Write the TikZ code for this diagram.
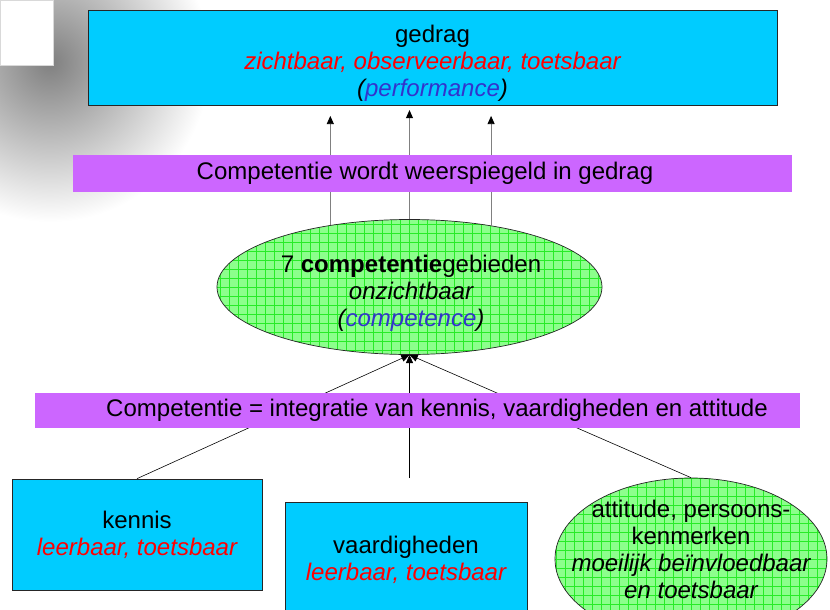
\documentclass[tikz,border=0pt]{standalone}
\usepackage{fontspec}
\setmainfont{Liberation Sans}
\usetikzlibrary{shapes,arrows.meta,calc,positioning}
\definecolor{boxcyan}{RGB}{0,204,255}
\definecolor{bandpurple}{RGB}{204,102,255}
\definecolor{ovalgreen}{RGB}{140,255,140}
\definecolor{gridgreen}{RGB}{40,235,40}
\definecolor{textred}{RGB}{255,0,0}
\definecolor{textblue}{RGB}{51,51,204}

\begin{document}
\begin{tikzpicture}[
  x=0.03cm, y=-0.03cm,
  font=\fontsize{20.5}{23}\selectfont,
  box/.style={rectangle, draw=black!85, line width=0.6pt, fill=boxcyan, align=center, inner sep=0pt},
  band/.style={rectangle, fill=bandpurple, inner sep=0pt},
  oval/.style={ellipse, draw=black!85, line width=0.6pt, fill=ovalgreen, align=center, inner sep=0pt,
    path picture={\draw[gridgreen, line width=0.3pt] (path picture bounding box.south west) grid[step=0.27cm] (path picture bounding box.north east);}},
  uparrow/.style={draw=black!50, line width=0.7pt, -{Triangle[black, length=7pt, width=6pt]}},
  joinarrow/.style={draw=black, line width=0.5pt, -{Triangle[black, length=7pt, width=6pt]}}
]
\useasboundingbox (0,0) rectangle (830,610);

% slide corner with shadow
\begin{scope}
  \clip (0,0) rectangle (830,610);
  \shade[inner color=black!50, outer color=white] (50,62) circle (160);
\end{scope}
\draw[draw=black!15, fill=white] (0,0) rectangle (53,65);

% Top: behaviour
\node[box, minimum width=20.67cm, minimum height=2.85cm] (gedrag) at (432.5,57.5) {};
\node[align=center] (gedragtext) at (432.5,63)
  {gedrag\\ {\itshape\color{textred}zichtbaar, observeerbaar, toetsbaar}\\ {\itshape(\textcolor{textblue}{performance})}};

% Middle: competence areas
\node[oval, minimum width=11.55cm, minimum height=4.05cm] (comp) at (409.5,287) {};
\node[align=center] (comptext) at (411,293)
  {7 \textbf{competentie}gebieden\\ {\itshape onzichtbaar}\\ {\itshape(\textcolor{textblue}{competence})}};

% Bottom: components
\node[box, minimum width=7.5cm, minimum height=3.33cm] (kennis) at (137,534.5)
  {kennis\\ {\itshape\color{textred}leerbaar, toetsbaar}};
\node[box, minimum width=7.26cm, minimum height=3.48cm] (vaard) at (406,560)
  {vaardigheden\\ {\itshape\color{textred}leerbaar, toetsbaar}};
\node[oval, minimum width=8.16cm, minimum height=4.86cm] (attitude) at (691,559) {};
\node[align=center] (atttext) at (691,549)
  {attitude, persoons-\\ kenmerken\\ {\itshape moeilijk beïnvloedbaar}\\ {\itshape en toetsbaar}};

% Arrows - competence to behaviour
\draw[uparrow, shorten >=9pt] (comp.142.5) -- (comp.142.5 |- gedrag.south);
\draw[uparrow, shorten >=4pt] (comp.north) -- (comp.north |- gedrag.south);
\draw[uparrow, shorten >=9pt] (comp.37.5) -- (comp.37.5 |- gedrag.south);

% Arrows - components to competence
\draw[joinarrow] (kennis.north) -- (comp.south);
\draw[joinarrow, shorten <=20pt] (vaard.north -| comp.south) -- (comp.south);
\draw[joinarrow] (attitude.north) -- (comp.south);

% Bands
\node[band, minimum width=21.57cm, minimum height=1.11cm] (band1) at (432.5,173.5) {};
\node (weerspiegeld) at (425,173.5) {Competentie wordt weerspiegeld in gedrag};
\node[band, minimum width=22.95cm, minimum height=1.05cm] (band2) at (417.5,410.5) {};
\node (integratie) at (437,410.5) {Competentie = integratie van kennis, vaardigheden en attitude};

\end{tikzpicture}
\end{document}
